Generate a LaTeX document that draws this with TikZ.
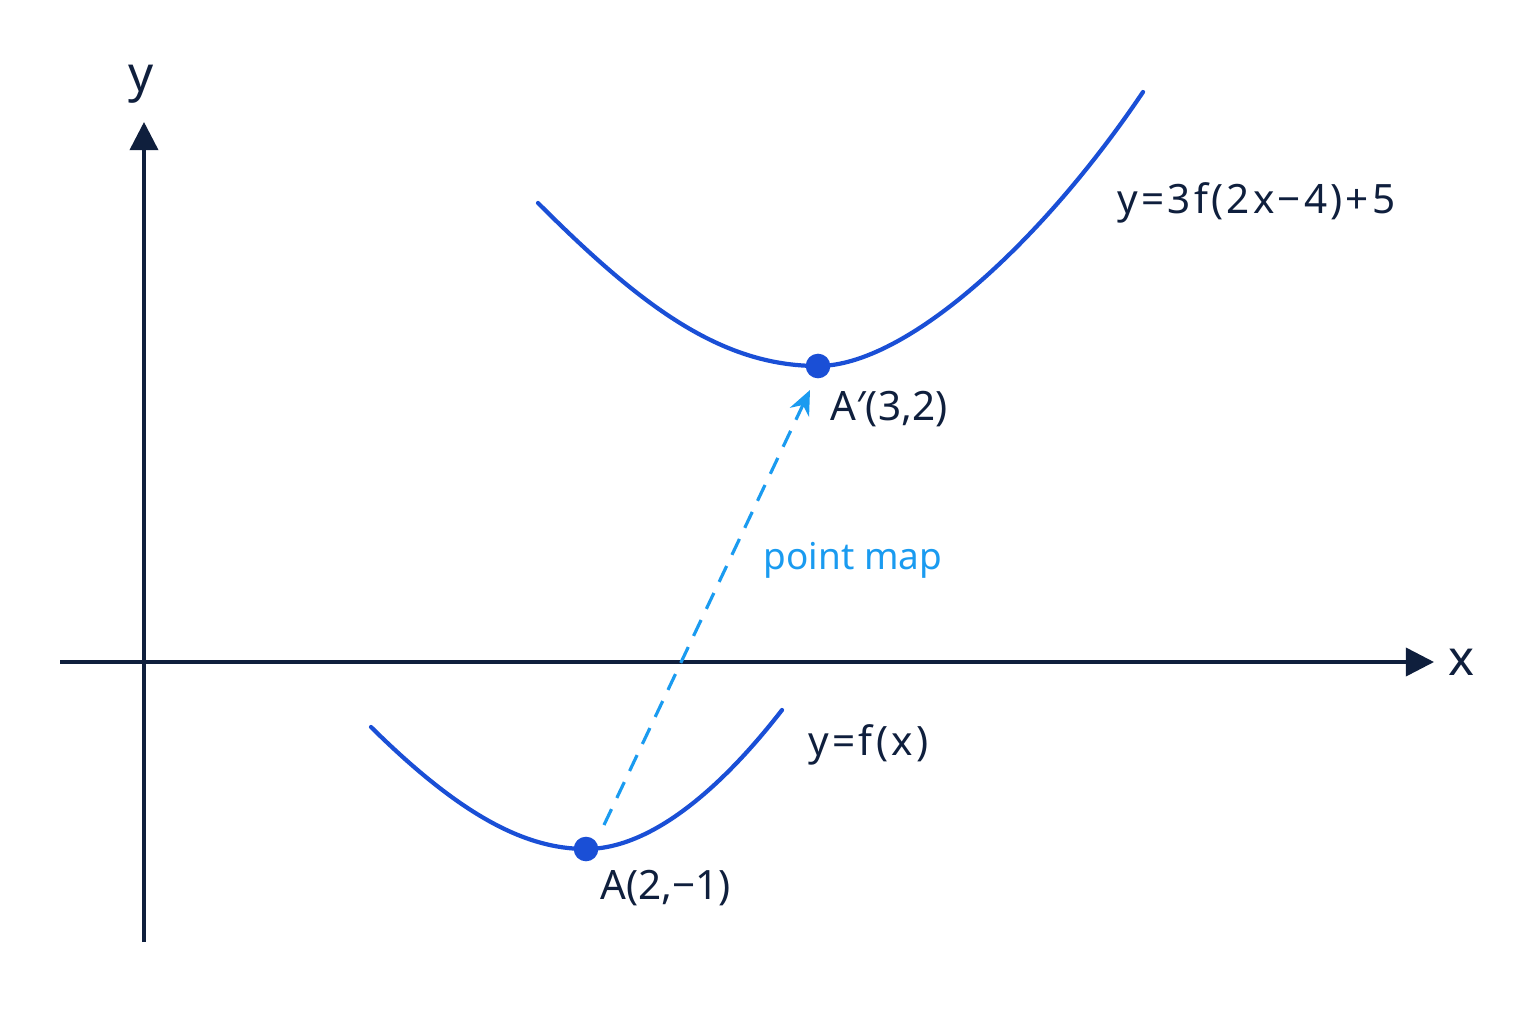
\documentclass[tikz,border=0pt]{standalone}
\usepackage{fontspec}
\setmainfont{Noto Sans}
\newfontfamily\eqfont[LetterSpace=8]{Noto Sans}
\usetikzlibrary{arrows.meta,calc}
\definecolor{axiscol}{HTML}{0F1F3D}
\definecolor{curvecol}{HTML}{1A4FD6}
\definecolor{mapcol}{HTML}{1A9BF0}
\tikzset{
  axisline/.style={draw=axiscol, line width=1.0pt, -{Triangle[length=8pt,width=8pt]}},
  curveline/.style={draw=curvecol, line width=1.2pt, line cap=round},
  ptdot/.style={circle, fill=curvecol, inner sep=0pt, minimum size=7pt},
  lbl/.style={text=axiscol, font=\fontsize{11.5}{13}\selectfont, inner sep=0pt},
  eqlbl/.style={text=axiscol, font=\eqfont\fontsize{11.5}{13}\selectfont, inner sep=0pt},
  axlbl/.style={text=axiscol, font=\fontsize{14}{16}\selectfont, inner sep=0pt},
  maplbl/.style={text=mapcol, font=\fontsize{10.5}{12}\selectfont, inner sep=0pt},
  mapline/.style={draw=mapcol, line width=0.9pt, dashed, dash pattern=on 5pt off 3.5pt, -{Stealth[length=7pt,width=6pt]}}
}
\begin{document}
\begin{tikzpicture}[x=0.01cm, y=-0.01cm]
\useasboundingbox (0,0) rectangle (1536,1024);
% axes
\coordinate (xs) at (60,662);
\coordinate (xe) at (1434,662);
\coordinate (ys) at (144,942);
\coordinate (ye) at (144,122);
\draw[axisline] (xs) -- (xe);
\draw[axisline] (ys) -- (ye);
\node[axlbl] (xl) at (1462,662) {x};
\node[axlbl] (yl) at (141,84) {y};
% lower curve
\coordinate (L1) at (371,727);
\coordinate (L2) at (782,710);
\draw[curveline] (L1) .. controls (460,815) and (525,849) .. (586,849)
   .. controls (650,849) and (720,790) .. (L2);
% upper curve
\coordinate (U1) at (538,203);
\coordinate (U2) at (1143,92);
\draw[curveline] (U1) .. controls (640,305) and (720,366) .. (818,366)
   .. controls (905,366) and (1040,245) .. (U2);
% points
\node[ptdot] (A) at (586,849) {};
\node[ptdot] (Ap) at (818,366) {};
% map arrow
\coordinate (ms) at (604,825);
\coordinate (me) at (810,390);
\draw[mapline] (ms) -- (me);
% labels
\node[lbl, anchor=west] (Al) at (600,888) {A(2,−1)};
\node[lbl, anchor=west] (Apl) at (830,409) {A′(3,2)};
\node[maplbl, anchor=west] (ml) at (763,560) {point map};
\node[eqlbl, anchor=west] (fl) at (808,745) {y=f(x)};
\node[eqlbl, anchor=west] (gl) at (1117,203) {y=3f(2x−4)+5};
\end{tikzpicture}
\end{document}
